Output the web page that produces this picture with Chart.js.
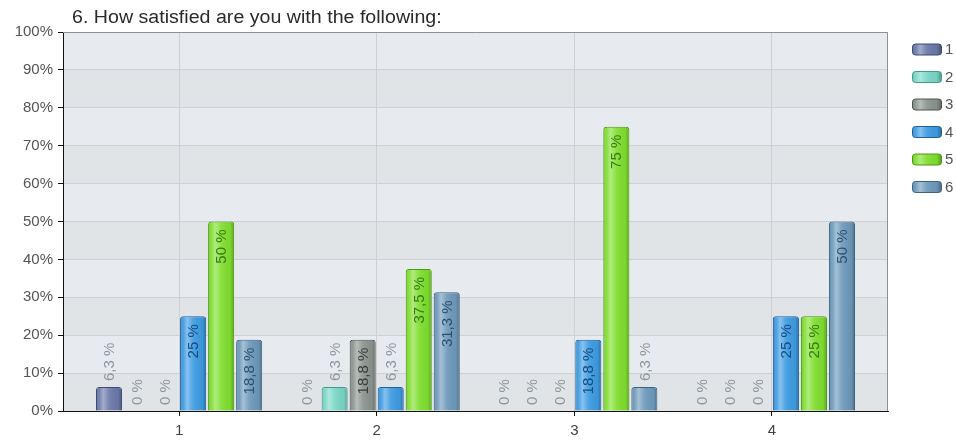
<!DOCTYPE html>
<html>
<head>
<meta charset="utf-8">
<script src="https://cdn.jsdelivr.net/npm/chart.js@4.4.1/dist/chart.umd.min.js"></script>
<style>
  html, body { margin: 0; padding: 0; background: #ffffff; }
  #wrap { width: 956px; height: 441px; position: relative; }
</style>
</head>
<body>
<div id="wrap"><canvas id="c" width="956" height="441"></canvas></div>
<script>
// Survey question and answer data (percent of respondents)
const titleText = '6. How satisfied are you with the following:';
const categories = ['1', '2', '3', '4'];
const seriesNames = ['1', '2', '3', '4', '5', '6'];
const answer1 = [6.3, 0, 0, 0];
const answer2 = [0, 6.3, 0, 0];
const answer3 = [0, 18.8, 0, 0];
const answer4 = [25, 6.3, 18.8, 25];
const answer5 = [50, 37.5, 75, 25];
const answer6 = [18.8, 31.3, 6.3, 50];
const yTickValues = [0, 10, 20, 30, 40, 50, 60, 70, 80, 90, 100];

const seriesValues = [answer1, answer2, answer3, answer4, answer5, answer6];
const fills   = ['#6b7aa9', '#7bd7c7', '#8b9590', '#3e9ce2', '#80df2f', '#6e9abb'];
const borders = ['#3d4a72', '#3f9e8e', '#4d5551', '#1e5e9c', '#4a9913', '#3b6484'];
const inks    = ['#1f2a4a', '#1d5a50', '#2a2e2c', '#0d3a6a', '#2a650a', '#1d3f5c'];

const FONT = '"Liberation Sans", Arial, sans-serif';

function fmtPct(v) {
  return String(v).replace('.', ',') + ' %';
}

function roundTopRect(ctx, x, y, w, h, r) {
  r = Math.min(r, w / 2, h);
  ctx.beginPath();
  ctx.moveTo(x, y + h);
  ctx.lineTo(x, y + r);
  ctx.quadraticCurveTo(x, y, x + r, y);
  ctx.lineTo(x + w - r, y);
  ctx.quadraticCurveTo(x + w, y, x + w, y + r);
  ctx.lineTo(x + w, y + h);
  ctx.closePath();
}

function glossGradient(ctx, left, width) {
  const g = ctx.createLinearGradient(left, 0, left + width, 0);
  g.addColorStop(0, 'rgba(0,0,0,0.22)');
  g.addColorStop(0.12, 'rgba(255,255,255,0.05)');
  g.addColorStop(0.28, 'rgba(255,255,255,0.38)');
  g.addColorStop(0.5, 'rgba(255,255,255,0.08)');
  g.addColorStop(0.85, 'rgba(0,0,0,0.04)');
  g.addColorStop(1, 'rgba(0,0,0,0.28)');
  return g;
}

const decor = {
  id: 'decor',
  beforeDraw(chart) {
    const { ctx, chartArea: a, scales: { y } } = chart;
    ctx.save();
    // alternating horizontal bands behind the bars
    for (let i = 0; i < yTickValues.length - 1; i++) {
      const top = y.getPixelForValue(yTickValues[i + 1]);
      const bot = y.getPixelForValue(yTickValues[i]);
      ctx.fillStyle = (i % 2 === 1) ? '#e7eaee' : '#e1e4e6';
      ctx.fillRect(a.left, top, a.right - a.left, bot - top);
    }
    ctx.restore();
  },
  beforeDatasetsDraw(chart) {
    const { ctx, chartArea: a } = chart;
    ctx.save();
    ctx.strokeStyle = '#8c9094';
    ctx.lineWidth = 1;
    ctx.beginPath();
    ctx.moveTo(a.left, a.top + 0.5);
    ctx.lineTo(a.right - 0.5, a.top + 0.5);
    ctx.lineTo(a.right - 0.5, a.bottom);
    ctx.stroke();
    ctx.restore();
  },
  afterDatasetsDraw(chart) {
    const { ctx } = chart;
    ctx.save();
    // glossy shading on each bar
    chart.data.datasets.forEach((ds, di) => {
      const meta = chart.getDatasetMeta(di);
      meta.data.forEach((bar, i) => {
        const v = seriesValues[di][i];
        if (!v) return;
        const w = bar.width, left = bar.x - w / 2;
        const h = bar.base - bar.y;
        roundTopRect(ctx, left + 1, bar.y + 1, w - 2, h - 1, 3);
        ctx.fillStyle = glossGradient(ctx, left, w);
        ctx.fill();
      });
    });
    // value labels, written vertically
    ctx.font = '15px ' + FONT;
    ctx.textBaseline = 'middle';
    chart.data.datasets.forEach((ds, di) => {
      const meta = chart.getDatasetMeta(di);
      meta.data.forEach((bar, i) => {
        const v = seriesValues[di][i];
        const text = fmtPct(v);
        const tw = ctx.measureText(text).width;
        const h = bar.base - bar.y;
        ctx.save();
        if (h >= tw + 14) {
          ctx.translate(bar.x + 1, bar.y + 8);
          ctx.rotate(-Math.PI / 2);
          ctx.textAlign = 'right';
          ctx.fillStyle = inks[di];
          ctx.globalAlpha = 0.85;
        } else {
          ctx.translate(bar.x + 1, bar.y - 6);
          ctx.rotate(-Math.PI / 2);
          ctx.textAlign = 'left';
          ctx.fillStyle = '#8f969c';
        }
        ctx.fillText(text, 0, 0);
        ctx.restore();
      });
    });
    ctx.restore();
  },
  afterDraw(chart) {
    const { ctx } = chart;
    ctx.save();
    // title
    ctx.fillStyle = '#2a2a2a';
    ctx.font = '18px ' + FONT;
    ctx.textBaseline = 'alphabetic';
    ctx.textAlign = 'left';
    ctx.translate(72, 23);
    ctx.scale(1.09, 1);
    ctx.fillText(titleText, 0, 0);
    ctx.restore();

    // legend
    ctx.save();
    ctx.font = '15px ' + FONT;
    ctx.textBaseline = 'middle';
    ctx.textAlign = 'left';
    seriesNames.forEach((name, k) => {
      const cy = 49 + k * 27.5;
      const bx = 912, bw = 29, bh = 11, by = cy - bh / 2;
      ctx.beginPath();
      ctx.roundRect(bx + 0.5, by + 0.5, bw, bh, 3);
      ctx.fillStyle = fills[k];
      ctx.fill();
      ctx.fillStyle = glossGradient(ctx, bx, bw);
      ctx.fill();
      ctx.strokeStyle = borders[k];
      ctx.lineWidth = 1;
      ctx.stroke();
      ctx.fillStyle = '#555555';
      ctx.fillText(name, 945, cy + 1);
    });
    ctx.restore();
  }
};

const datasets = seriesNames.map((name, k) => ({
  label: name,
  data: seriesValues[k].map((v, i) => ({ x: i + 1, y: v })),
  backgroundColor: fills[k],
  borderColor: borders[k],
  borderWidth: (c) => (c.raw && c.raw.y > 0 ? 1 : 0),
  borderRadius: { topLeft: 3, topRight: 3, bottomLeft: 0, bottomRight: 0 },
  borderSkipped: 'start',
  categoryPercentage: 0.851,
  barPercentage: 0.93
}));

new Chart(document.getElementById('c'), {
  type: 'bar',
  data: { datasets },
  options: {
    responsive: false,
    devicePixelRatio: 1,
    animation: false,
    layout: { padding: { top: 32, right: 68, left: 0, bottom: 0 } },
    plugins: {
      legend: { display: false },
      tooltip: { enabled: false },
      title: { display: false }
    },
    scales: {
      x: {
        type: 'linear',
        offset: false,
        min: 0.4125,
        max: 4.5875,
        afterBuildTicks: (s) => { s.ticks = categories.map((c, i) => ({ value: i + 1 })); },
        afterFit: (s) => { s.height = 30; },
        ticks: {
          callback: (v) => categories[Math.round(v) - 1] ?? '',
          font: { size: 15, family: FONT },
          color: '#444444',
          padding: 6,
          autoSkip: false,
          maxRotation: 0
        },
        grid: { offset: false, color: '#cdd1d5', tickLength: 5, tickColor: '#111111' },
        border: { color: '#111111', width: 1 }
      },
      y: {
        min: 0,
        max: 100,
        afterBuildTicks: (s) => { s.ticks = yTickValues.map((v) => ({ value: v })); },
        afterFit: (s) => { s.width = 63; },
        ticks: {
          callback: (v) => v + '%',
          font: { size: 15, family: FONT },
          color: '#555555',
          padding: 5
        },
        grid: { color: '#cdd1d5', tickLength: 5, tickColor: '#111111' },
        border: { color: '#111111', width: 1 }
      }
    }
  },
  plugins: [decor]
});
</script>
</body>
</html>
